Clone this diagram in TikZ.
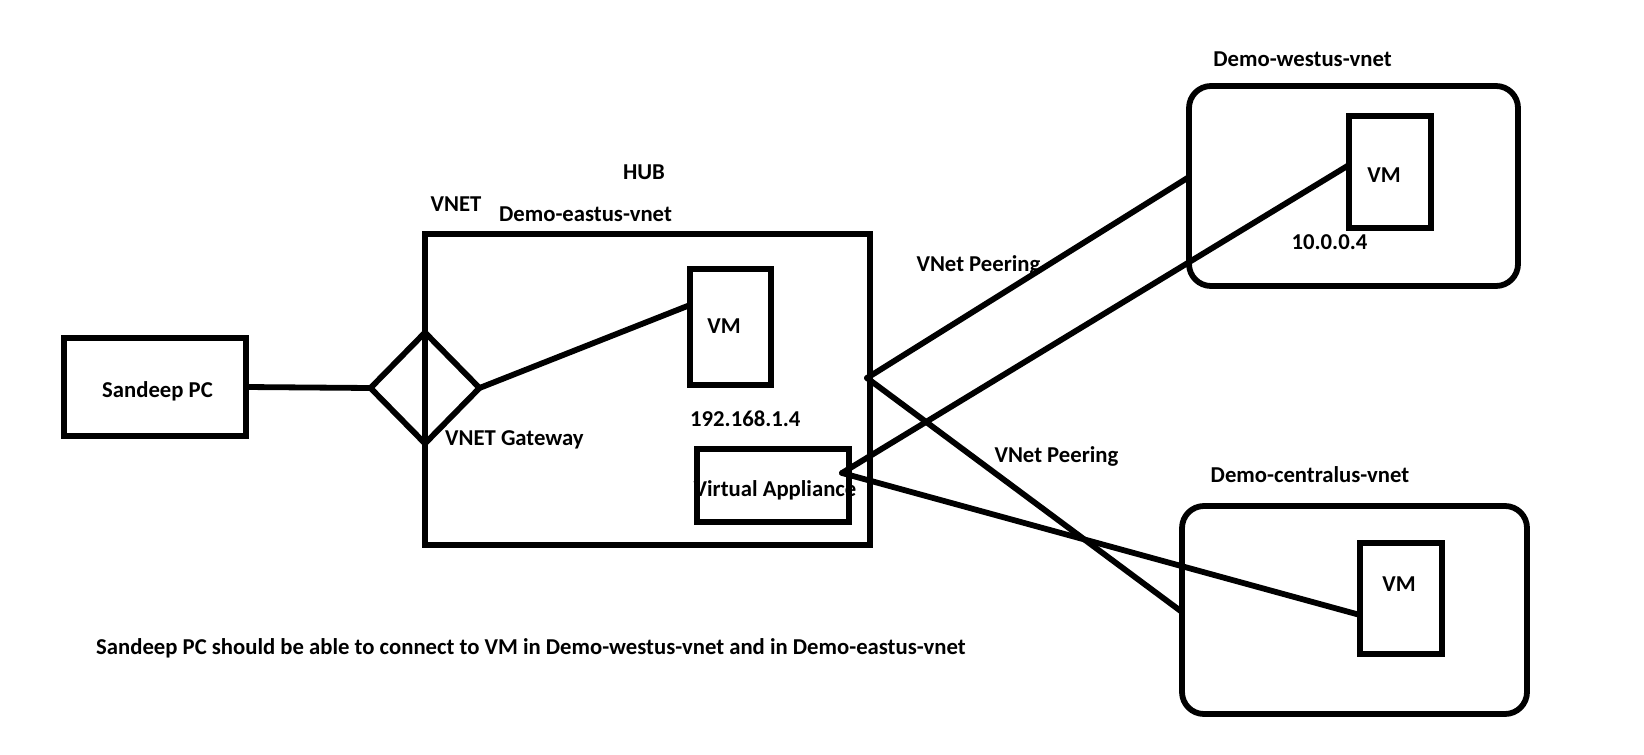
\documentclass[tikz,border=0pt]{standalone}
\usepackage{fontspec}
\setmainfont{Carlito}
\usetikzlibrary{shapes.geometric,calc}
\begin{document}
\begin{tikzpicture}[x=1pt,y=-1pt,
  lbl/.style={font=\bfseries\fontsize{22.7}{27}\selectfont,inner sep=0pt,text height=14.5pt,text depth=0pt},
  box/.style={draw,line width=5.8pt,inner sep=0pt,outer sep=0pt},
  rbox/.style={box,rounded corners=22pt},
  conn/.style={draw,line width=5.8pt,line cap=round}]
\useasboundingbox (0,0) rectangle (1644,755);
% boxes
\node[box,minimum width=182pt,minimum height=98pt] (pc) at (155,387) {};
\node[box,minimum width=445pt,minimum height=311pt] (hub) at (647.5,389.5) {};
\node[box,minimum width=81pt,minimum height=116pt] (hubvm) at (730.5,327) {};
\node[box,minimum width=152pt,minimum height=73pt] (va) at (773,485.5) {};
\node[box,diamond,aspect=1,minimum width=109pt,minimum height=111pt] (gw) at (425,388) {};
\node[rbox,minimum width=329pt,minimum height=200pt] (west) at (1353.5,186) {};
\node[box,minimum width=82pt,minimum height=112pt] (westvm) at (1390,172) {};
\node[rbox,minimum width=345pt,minimum height=208pt] (central) at (1354.5,610) {};
\node[box,minimum width=82pt,minimum height=111pt] (centralvm) at (1401,598.5) {};
% labels
\node[lbl] (pclbl) at (157.5,390) {Sandeep PC};
\node[lbl] (hubvmlbl) at (724,326) {VM};
\node[lbl] (westvmlbl) at (1384,175) {VM};
\node[lbl] (centralvmlbl) at (1399,584) {VM};
\node[lbl] (hublbl) at (644,172) {HUB};
\node[lbl] (vnetlbl) at (456,204) {VNET};
\node[lbl] (eastlbl) at (585.5,214) {Demo-eastus-vnet};
\node[lbl,anchor=west] (gwlbl) at (445,438) {VNET Gateway};
\node[lbl,anchor=west] (iplbl) at (690,419) {192.168.1.4};
\node[lbl] (valbl) at (775,489) {Virtual Appliance};
\node[lbl] (westip) at (1329.5,242) {10.0.0.4};
\node[lbl] (westlbl) at (1302.5,59) {Demo-westus-vnet};
\node[lbl] (centrallbl) at (1310,475) {Demo-centralus-vnet};
\node[lbl] (peer1lbl) at (978.5,264) {VNet Peering};
\node[lbl] (peer2lbl) at (1056.5,455) {VNet Peering};
\node[lbl,anchor=west] (note) at (96,647) {Sandeep PC should be able to connect to VM in Demo-westus-vnet and in Demo-eastus-vnet};
% connectors
\coordinate (peer) at (867,378);
\coordinate (vap) at (842,473);
\draw[conn] (pc.east) -- (gw.west);
\draw[conn] (gw.east) -- ([yshift=22pt]hubvm.west);
\draw[conn] (peer) -- ([yshift=9pt]west.west);
\draw[conn] (peer) -- ([yshift=-2pt]central.west);
\draw[conn] (vap) -- ([yshift=7pt]westvm.west);
\draw[conn] (vap) -- ([yshift=-16.5pt]centralvm.west);
\end{tikzpicture}
\end{document}
